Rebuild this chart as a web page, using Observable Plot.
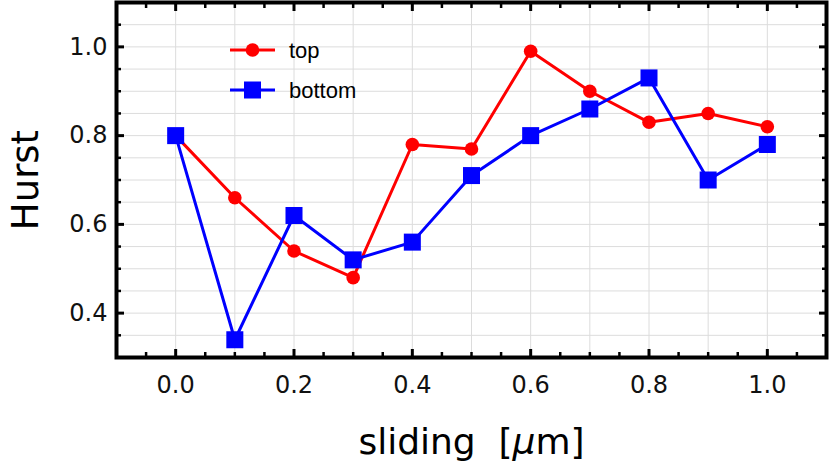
<!DOCTYPE html>
<html><head><meta charset="utf-8">
<script src="https://cdn.jsdelivr.net/npm/d3@7"></script>
<script src="https://cdn.jsdelivr.net/npm/@observablehq/plot@0.6"></script>
<style>
body{margin:0;background:#fff;}
#wrap{position:relative;width:830px;height:466px;}
#legend{position:absolute;left:0;top:0;pointer-events:none;}
</style></head><body><div id="wrap"></div>
<script>
const sliding = [0.0, 0.1, 0.2, 0.3, 0.4, 0.5, 0.6, 0.7, 0.8, 0.9, 1.0];
const hurstTop = [0.80, 0.66, 0.54, 0.48, 0.78, 0.77, 0.99, 0.90, 0.83, 0.85, 0.82];
const hurstBottom = [0.80, 0.34, 0.62, 0.52, 0.56, 0.71, 0.80, 0.86, 0.93, 0.70, 0.78];
const seriesNames = ["top", "bottom"];
const seriesColors = ["#ff0000", "#0000ff"];
const xTickLabels = [0.0, 0.2, 0.4, 0.6, 0.8, 1.0];
const yTickLabels = [0.4, 0.6, 0.8, 1.0];
const xLabel = "sliding\u00a0\u00a0[μm]";
const yLabel = "Hurst";

const xDomain = [-0.1, 1.1];
const yDomain = [0.3, 1.1];
const round = v => Math.round(v * 1000) / 1000;
const xMinor = d3.range(-0.05, 1.06, 0.05).map(round).filter(v => !xTickLabels.some(t => Math.abs(t - v) < 1e-6));
const yMinor = d3.range(0.35, 1.06, 0.05).map(round).filter(v => !yTickLabels.some(t => Math.abs(t - v) < 1e-6));
const xGrid = d3.range(0, 1.01, 0.1).map(round);
const yGrid = d3.range(0.35, 1.06, 0.05).map(round);

const topData = sliding.map((x, i) => ({x, y: hurstTop[i]}));
const bottomData = sliding.map((x, i) => ({x, y: hurstBottom[i]}));

const tickOpts = {tickFormat: () => "", label: null, stroke: "black"};

const chart = Plot.plot({
  width: 830,
  height: 466,
  marginLeft: 116,
  marginRight: 4,
  marginTop: 2,
  marginBottom: 109,
  style: {fontFamily: "'DejaVu Sans', sans-serif", background: "#fff"},
  x: {domain: xDomain},
  y: {domain: yDomain},
  marks: [
    Plot.gridX(xGrid, {stroke: "#dcdcdc", strokeOpacity: 1, strokeWidth: 1}),
    Plot.gridY(yGrid, {stroke: "#dcdcdc", strokeOpacity: 1, strokeWidth: 1}),
    Plot.line(topData, {x: "x", y: "y", stroke: seriesColors[0], strokeWidth: 3}),
    Plot.dot(topData, {x: "x", y: "y", fill: seriesColors[0], r: 6.8, symbol: "circle"}),
    Plot.line(bottomData, {x: "x", y: "y", stroke: seriesColors[1], strokeWidth: 3}),
    Plot.dot(bottomData, {x: "x", y: "y", fill: seriesColors[1], r: 9.6, symbol: "square"}),
    // tick labels
    Plot.axisX(xTickLabels, {anchor: "bottom", tickSize: 0, tickPadding: 18, fontSize: 24, tickFormat: d => d.toFixed(1), label: null, fill: "#111"}),
    Plot.axisY(yTickLabels, {anchor: "left", tickSize: 0, tickPadding: 9, fontSize: 24, tickFormat: d => d.toFixed(1), label: null, fill: "#111"}),
    // inward ticks
    Plot.axisX(xTickLabels, {anchor: "bottom", tickSize: -8, strokeWidth: 3, ...tickOpts}),
    Plot.axisX(xTickLabels, {anchor: "top", tickSize: -8, strokeWidth: 3, ...tickOpts}),
    Plot.axisX(xMinor, {anchor: "bottom", tickSize: -5, strokeWidth: 2.5, ...tickOpts}),
    Plot.axisX(xMinor, {anchor: "top", tickSize: -5, strokeWidth: 2.5, ...tickOpts}),
    Plot.axisY(yTickLabels, {anchor: "left", tickSize: -8, strokeWidth: 3, ...tickOpts}),
    Plot.axisY(yTickLabels, {anchor: "right", tickSize: -8, strokeWidth: 3, ...tickOpts}),
    Plot.axisY(yMinor, {anchor: "left", tickSize: -5, strokeWidth: 2.5, ...tickOpts}),
    Plot.axisY(yMinor, {anchor: "right", tickSize: -5, strokeWidth: 2.5, ...tickOpts}),
    Plot.frame({stroke: "black", strokeWidth: 4}),
    // axis labels
    Plot.text([yLabel], {frameAnchor: "left", dx: -90, rotate: -90, textAnchor: "middle", lineAnchor: "middle", fontSize: 37, fill: "black", text: d => d}),
    Plot.text([xLabel], {frameAnchor: "bottom", dy: 85, textAnchor: "middle", lineAnchor: "middle", fontSize: 36, fill: "black", text: d => d})
  ]
});

// italic mu
d3.select(chart).selectAll("text").each(function() {
  const t = this.textContent;
  if (t.includes("μ")) {
    const el = d3.select(this);
    const target = el.select("tspan").empty() ? el : el.select("tspan");
    const parts = t.split("μ");
    target.text(null);
    target.append("tspan").text(parts[0]);
    target.append("tspan").attr("font-style", "italic").text("μ");
    target.append("tspan").text(parts[1]);
  }
});

const wrap = document.getElementById("wrap");
wrap.appendChild(chart);

// legend overlay
const leg = d3.select(wrap).append("svg").attr("id", "legend").attr("width", 830).attr("height", 466);
const rowsY = [50, 90];
seriesNames.forEach((name, i) => {
  const g = leg.append("g").attr("transform", `translate(230,${rowsY[i]})`);
  g.append("line").attr("x1", 0).attr("x2", 45).attr("y1", 0).attr("y2", 0)
    .attr("stroke", seriesColors[i]).attr("stroke-width", 3);
  if (i === 0) g.append("circle").attr("cx", 22.5).attr("cy", 0).attr("r", 6.8).attr("fill", seriesColors[i]);
  else g.append("rect").attr("x", 22.5 - 8.5).attr("y", -8.5).attr("width", 17).attr("height", 17).attr("fill", seriesColors[i]);
  g.append("text").attr("x", 59).attr("y", 7.5).attr("font-family", "'Liberation Sans', Arial, sans-serif")
    .attr("font-size", 22).attr("fill", "black").text(name);
});
</script></body></html>
